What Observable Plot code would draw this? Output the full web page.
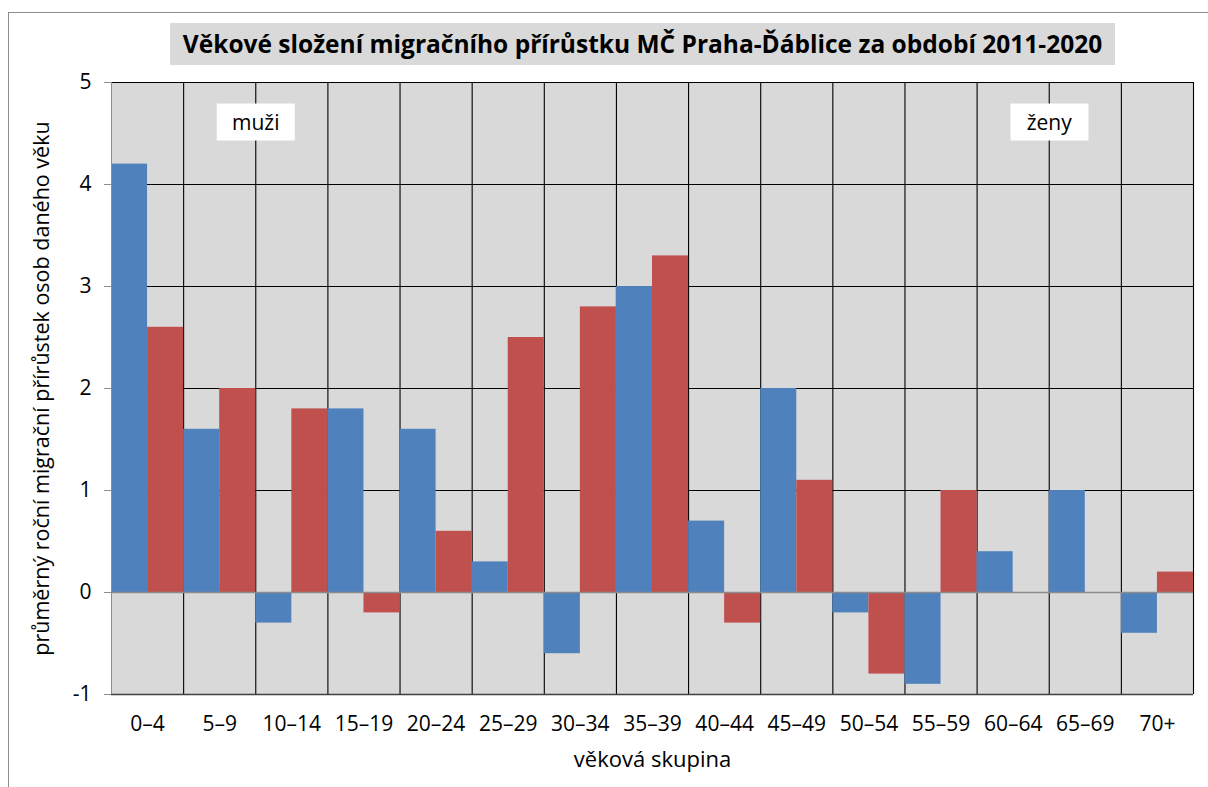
<!DOCTYPE html>
<html>
<head>
<meta charset="utf-8">
<script src="https://cdn.jsdelivr.net/npm/d3@7"></script>
<script src="https://cdn.jsdelivr.net/npm/@observablehq/plot@0.6"></script>
<style>
  body { margin: 0; background: #fff; }
  #wrap { position: relative; width: 1208px; height: 787px; font-family: "Open Sans", sans-serif; overflow: hidden; }
  #border { position: absolute; left: 8px; top: 12px; right: -2px; bottom: -2px; border-left: 1px solid #8c8c8c; border-top: 1px solid #8c8c8c; }
  #title { position: absolute; left: 170px; top: 23px; width: 945px; height: 42px; background: #d9d9d9; font-weight: bold; font-size: 24.5px; line-height: 42px; text-align: center; color: #000; white-space: nowrap; }
  #chart { position: absolute; left: 0; top: 40px; }
  #chart svg { overflow: visible; }
  #chart svg g[aria-label="y-axis tick"] path,
  #chart svg .tick line { stroke: #8c8c8c; }
  #chart svg g[aria-label="x-axis label"] text { font-size: 22px; }
  #chart svg g[aria-label="y-axis label"] text { font-size: 21.5px; }
</style>
</head>
<body>
<div id="wrap">
  <div id="border"></div>
  <div id="title"></div>
  <div id="chart"></div>
</div>
<script>
const title = "Věkové složení migračního přírůstku MČ Praha-Ďáblice za období 2011-2020";
const groups = ["0–4","5–9","10–14","15–19","20–24","25–29","30–34","35–39","40–44","45–49","50–54","55–59","60–64","65–69","70+"];
const muzi = [4.2, 1.6, -0.3, 1.8, 1.6, 0.3, -0.6, 3.0, 0.7, 2.0, -0.2, -0.9, 0.4, 1.0, -0.4];
const zeny = [2.6, 2.0, 1.8, -0.2, 0.6, 2.5, 2.8, 3.3, -0.3, 1.1, -0.8, 1.0, 0, 0, 0.2];
const yTicks = [-1, 0, 1, 2, 3, 4, 5];
const yLabel = "průměrný roční migrační přírůstek osob daného věku";
const xLabel = "věková skupina";
const annotText = ["muži", "ženy"];
const annotX = [2, 13];     // group boundary index
const annotY = [4.6, 4.6];

document.getElementById("title").textContent = title;

const bars = [];
groups.forEach((g, i) => {
  bars.push({i, sex: "m", v: muzi[i]});
  bars.push({i, sex: "z", v: zeny[i]});
});
const annots = annotText.map((t, k) => ({t, x: annotX[k], y: annotY[k]}));

const chart = Plot.plot({
  width: 1208,
  height: 747,
  marginLeft: 111,
  marginRight: 15,
  marginTop: 42,
  marginBottom: 93,
  style: {fontSize: "21px", fontFamily: "Open Sans, sans-serif", color: "#000", background: "transparent"},
  x: {
    domain: [0, groups.length],
    ticks: groups.map((g, i) => i + 0.5),
    tickFormat: v => groups[Math.floor(v)],
    tickSize: 0,
    tickPadding: 22,
    label: xLabel,
    labelArrow: "none",
    labelAnchor: "center",
    labelOffset: 72
  },
  y: {
    domain: [-1, 5],
    ticks: yTicks,
    tickFormat: d => String(d),
    tickSize: 7,
    tickPadding: 13,
    label: yLabel,
    labelArrow: "none",
    labelAnchor: "center",
    labelOffset: 78
  },
  marks: [
    Plot.frame({fill: "#d9d9d9", stroke: null}),
    Plot.ruleY(yTicks.filter(d => d !== 0 && d !== -1), {stroke: "#000", strokeWidth: 1}),
    Plot.ruleX(d3.range(1, groups.length + 1), {stroke: "#000", strokeWidth: 1.1}),
    Plot.rectY(bars, {
      x1: d => d.i + (d.sex === "m" ? 0 : 0.5),
      x2: d => d.i + (d.sex === "m" ? 0.5 : 1),
      y: "v",
      fill: d => d.sex === "m" ? "#4f81bd" : "#c0504d",
      inset: 0
    }),
    Plot.ruleY([0], {stroke: "#8c8c8c", strokeWidth: 1.3}),
    Plot.ruleY([-1], {stroke: "#404040", strokeWidth: 1.5}),
    Plot.ruleX([0], {stroke: "#8c8c8c", strokeWidth: 1}),
    Plot.text(annots, {x: "x", y: "y", text: "t", fontSize: 21, fill: "#000", className: "annot"})
  ]
});
document.getElementById("chart").appendChild(chart);

// white boxes behind the annotation labels
chart.querySelectorAll(".annot text").forEach(t => {
  const b = t.getBBox();
  const w = 78, h = 37;
  const r = document.createElementNS("http://www.w3.org/2000/svg", "rect");
  const cx = b.x + b.width / 2, cy = b.y + b.height / 2;
  r.setAttribute("x", cx - w / 2);
  r.setAttribute("y", cy - h / 2);
  r.setAttribute("width", w);
  r.setAttribute("height", h);
  r.setAttribute("fill", "#fff");
  if (t.getAttribute("transform")) r.setAttribute("transform", t.getAttribute("transform"));
  t.parentNode.insertBefore(r, t);
});
</script>
</body>
</html>
